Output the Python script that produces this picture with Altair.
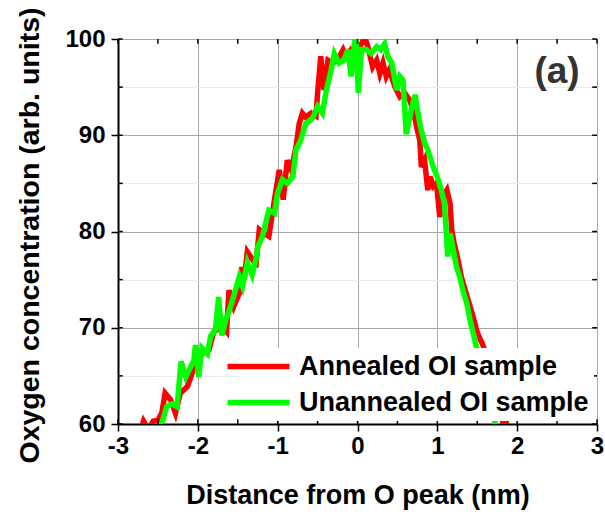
import altair as alt
import pandas as pd

# ---- data ----
annealed_x = [-2.75, -2.68, -2.62, -2.56, -2.50, -2.45, -2.41, -2.34, -2.28, -2.22, -2.13, -2.07,
              -2.01, -1.95, -1.86, -1.80, -1.69, -1.64, -1.61, -1.55, -1.48, -1.45, -1.42, -1.38,
              -1.34, -1.30, -1.27, -1.23, -1.17, -1.11, -1.04, -0.98, -0.93, -0.88, -0.83, -0.77,
              -0.73, -0.69, -0.65, -0.58, -0.52, -0.50, -0.46, -0.42, -0.37, -0.31, -0.25, -0.18,
              -0.14, -0.08, -0.02, 0.05, 0.09, 0.13, 0.19, 0.24, 0.28, 0.32, 0.36, 0.40, 0.47,
              0.53, 0.59, 0.65, 0.70, 0.74, 0.78, 0.80, 0.84, 0.88, 0.91, 0.95, 0.99, 1.03, 1.07,
              1.12, 1.16, 1.18, 1.21, 1.26, 1.30, 1.35, 1.40, 1.45, 1.49, 1.52, 1.56, 1.58, 1.64,
              1.71, 1.77, 1.82, 1.86, 1.90]
annealed_y = [58.5, 60.3, 59.4, 60.3, 60.4, 61.2, 63.2, 62.5, 61.1, 63.2, 63.9, 65.3,
              67.0, 67.3, 67.7, 69.6, 70.1, 69.6, 73.9, 72.2, 73.6, 76.3, 75.0, 77.9,
              77.4, 76.9, 76.7, 80.2, 79.8, 79.5, 83.3, 86.4, 83.3, 87.4, 86.4, 88.8,
              91.2, 92.3, 91.9, 92.3, 92.0, 94.4, 98.2, 94.7, 97.8, 97.5, 97.8, 98.9,
              98.2, 98.9, 98.5, 99.5, 100.2, 99.2, 97.1, 97.8, 96.4, 97.5, 96.1, 96.8, 95.0,
              94.0, 94.4, 93.7, 92.6, 90.9, 89.5, 86.7, 87.4, 84.3, 85.7, 84.7, 85.0, 81.5, 83.6,
              84.3, 82.9, 80.2, 78.8, 77.0, 75.3, 73.9, 72.5, 71.1, 69.8, 69.1, 68.4, 68.0, 66.0,
              63.5, 61.4, 60.2, 60.4, 58.5]

unannealed_x = [-2.60, -2.45, -2.39, -2.32, -2.26, -2.21, -2.15, -2.11, -2.05, -2.03, -1.99, -1.95,
                -1.88, -1.84, -1.78, -1.74, -1.70, -1.65, -1.59, -1.53, -1.48, -1.44, -1.38, -1.32,
                -1.27, -1.25, -1.19, -1.15, -1.11, -1.04, -1.00, -0.94, -0.88, -0.81, -0.77, -0.71,
                -0.65, -0.60, -0.56, -0.50, -0.44, -0.39, -0.33, -0.29, -0.23, -0.17, -0.12, -0.08,
                -0.04, -0.02, 0.01, 0.05, 0.11, 0.17, 0.24, 0.29, 0.34, 0.38, 0.43, 0.49, 0.53,
                0.57, 0.61, 0.67, 0.72, 0.78, 0.84, 0.88, 0.95, 1.01, 1.05, 1.09, 1.13, 1.16, 1.20,
                1.24, 1.28, 1.32, 1.37, 1.41, 1.45, 1.49, 1.55, 1.62, 1.68, 1.72, 1.76]
unannealed_y = [58.5, 60.1, 61.8, 62.1, 61.8, 66.5, 64.9, 65.6, 66.6, 68.2, 64.9, 67.9,
                67.3, 69.1, 69.8, 73.2, 69.2, 70.8, 72.2, 73.9, 75.3, 74.3, 76.8, 75.5,
                77.2, 78.4, 79.5, 80.9, 82.2, 81.9, 84.0, 85.4, 85.0, 85.7, 88.5, 89.5,
                91.2, 91.5, 91.8, 93.0, 92.3, 94.7, 96.8, 98.5, 97.5, 97.8, 98.9, 96.1,
                99.5, 100.3, 94.4, 98.9, 98.9, 98.5, 99.2, 98.9, 99.5, 98.2, 97.5, 94.7, 96.1,
                95.7, 90.1, 92.5, 94.2, 91.2, 89.2, 88.5, 86.7, 85.4, 84.3, 82.9, 77.4, 79.8, 78.1,
                76.3, 75.3, 73.9, 72.5, 70.8, 69.4, 68.0, 66.0, 63.5, 61.4, 60.2, 58.5]

series_names = ["Annealed OI sample", "Unannealed OI sample"]
series_colors = ["#ff0000", "#00ff00"]

x_ticks = [-3, -2.5, -2, -1.5, -1, -0.5, 0, 0.5, 1, 1.5, 2, 2.5, 3]
y_ticks = [60, 65, 70, 75, 80, 85, 90, 95, 100]

panel_label = ["(a)"]
panel_label_x = [2.5]
panel_label_y = [96.6]

FONT = "Liberation Sans"
W, H = 479, 385

df = pd.concat([
    pd.DataFrame({"x": annealed_x, "y": annealed_y, "sample": series_names[0], "k": 0}),
    pd.DataFrame({"x": unannealed_x, "y": unannealed_y, "sample": series_names[1], "k": 1}),
], ignore_index=True)

xs = alt.Scale(domain=[-3, 3], nice=False, zero=False)
ys = alt.Scale(domain=[60, 100], nice=False, zero=False)

x_axis = alt.Axis(
    values=x_ticks,
    labelExpr="datum.value % 1 === 0 ? '' + datum.value : ''",
    grid=True,
    gridColor={"condition": {"test": "datum.value % 1 !== 0", "value": "#ebebeb"}, "value": "#a8a8a8"},
    gridWidth=1,
    tickOpacity={"condition": {"test": "datum.value % 1 !== 0", "value": 0}, "value": 1},
    tickSize=7, tickColor="black", tickWidth=1.5,
    domainColor="black", domainWidth=2,
    labelFont=FONT, labelFontSize=24, labelFontWeight="bold", labelColor="black",
    labelPadding=3, labelFlush=False,
    title="Distance from O peak (nm)",
    titleFont=FONT, titleFontSize=27, titleFontWeight="bold", titleColor="black",
    titleY=79, titleBaseline="alphabetic",
)
y_axis = alt.Axis(
    values=y_ticks,
    labelExpr="datum.value % 10 === 0 ? '' + datum.value : ''",
    grid=True,
    gridColor={"condition": {"test": "datum.value % 10 !== 0", "value": "#ebebeb"}, "value": "#a8a8a8"},
    gridWidth=1,
    tickOpacity={"condition": {"test": "datum.value % 10 !== 0", "value": 0}, "value": 1},
    tickSize=7, tickColor="black", tickWidth=1.5,
    domainColor="black", domainWidth=2,
    labelFont=FONT, labelFontSize=24, labelFontWeight="bold", labelColor="black",
    labelPadding=6, labelFlush=False,
    title="Oxygen concentration (arb. units)",
    titleFont=FONT, titleFontSize=28.5, titleFontWeight="bold", titleColor="black",
    titleAngle=270, titleX=-80, titleY=196, titleAlign="center", titleBaseline="alphabetic",
)

lines = alt.Chart(df).mark_line(strokeWidth=5.5, clip=True).encode(
    x=alt.X("x:Q", scale=xs, axis=x_axis),
    y=alt.Y("y:Q", scale=ys, axis=y_axis),
    color=alt.Color("sample:N", title=None,
                    scale=alt.Scale(domain=series_names, range=series_colors),
                    legend=alt.Legend(orient="none", legendX=122, legendY=309,
                                      fillColor="white", padding=5,
                                      symbolType="M-3.1,0H3.1", symbolStrokeWidth=5.5, symbolSize=400,
                                      labelFont=FONT, labelFontSize=27, labelFontWeight="bold",
                                      labelColor="black", labelOffset=27, labelLimit=500,
                                      rowPadding=8, zindex=1)),
    detail="k:N",
)

# inward minor ticks on all four sides
tick_len_x = 0.06
tick_len_y = 0.5
bt = pd.DataFrame({"x": x_ticks, "y": 60, "y2": 60 + tick_len_y})
tt = pd.DataFrame({"x": x_ticks, "y": 100, "y2": 100 - tick_len_y})
lt = pd.DataFrame({"y": y_ticks, "x": -3, "x2": -3 + tick_len_x})
rt = pd.DataFrame({"y": y_ticks, "x": 3, "x2": 3 - tick_len_x})
tick_style = dict(color="black", strokeWidth=1.5)
vticks = alt.Chart(pd.concat([bt, tt])).mark_rule(**tick_style).encode(
    x=alt.X("x:Q", scale=xs), y=alt.Y("y:Q", scale=ys), y2="y2:Q")
hticks = alt.Chart(pd.concat([lt, rt])).mark_rule(**tick_style).encode(
    y=alt.Y("y:Q", scale=ys), x=alt.X("x:Q", scale=xs), x2="x2:Q")

label = alt.Chart(pd.DataFrame({"t": panel_label, "x": panel_label_x, "y": panel_label_y})).mark_text(
    font=FONT, fontSize=37, fontWeight="bold", color="#333333", align="center", baseline="middle"
).encode(x=alt.X("x:Q", scale=xs), y=alt.Y("y:Q", scale=ys), text="t:N")

chart = alt.layer(lines, vticks, hticks, label).properties(
    width=W, height=H,
    autosize=alt.AutoSizeParams(type="none"),
    padding={"left": 118, "top": 39, "right": 8, "bottom": 90},
).configure_view(stroke="black", strokeWidth=2).configure(background="white")

chart.save("out.html", embed_options={"renderer": "svg", "actions": False})
